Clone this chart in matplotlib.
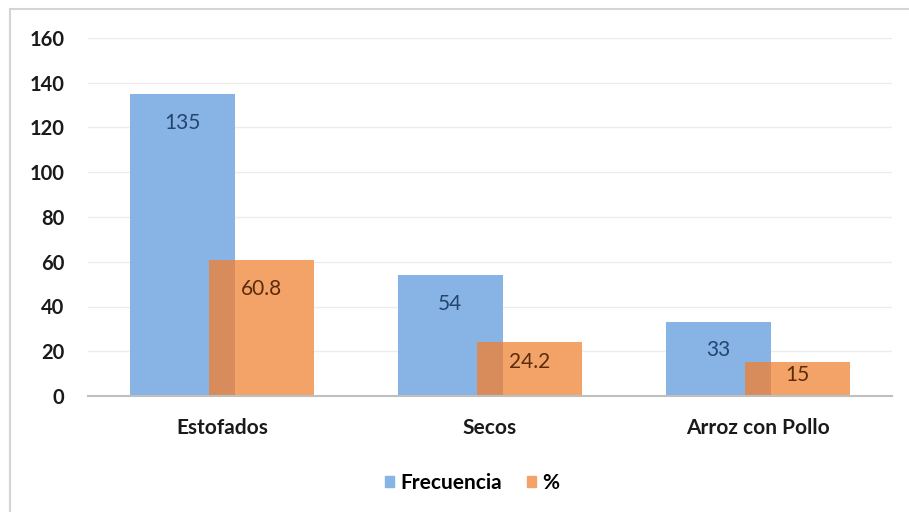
import matplotlib.pyplot as plt
from matplotlib.patches import Rectangle
import numpy as np

plt.rcParams['font.family'] = ['Lato', 'DejaVu Sans']

categorias = ['Estofados', 'Secos', 'Arroz con Pollo']
frecuencia = [135, 54, 33]
porcentaje = [60.8, 24.2, 15]
etiquetas_pct = ['60.8', '24.2', '15']

azul = '#87b4e4'
naranja = '#f3a367'
solape = '#d88c5c'

fig = plt.figure(figsize=(9.09, 5.12), dpi=100)
ax = fig.add_axes([88 / 909, 1 - 396 / 512, 804 / 909, 358 / 512])

x = np.arange(len(categorias))
w = 0.39
desp = 0.148

ax.bar(x - desp, frecuencia, w, color=azul, zorder=2)
ax.bar(x + desp, porcentaje, w, color=naranja, zorder=3)
# zona donde la barra naranja tapa a la azul, algo mas oscura
izq = x + desp - w / 2
der = x - desp + w / 2
ax.bar((izq + der) / 2, porcentaje, der - izq, color=solape, zorder=4)

def pos_etiqueta(v):
    return max(v - 12.8, v * 0.62)

for xi, v in zip(x, frecuencia):
    ax.text(xi - desp, pos_etiqueta(v), str(v), ha='center', va='center',
            fontsize=15, color='#23466e', zorder=5)
for xi, v, t in zip(x, porcentaje, etiquetas_pct):
    ax.text(xi + desp, pos_etiqueta(v), t, ha='center', va='center',
            fontsize=15, color='#5b2c0c', zorder=5)

ax.set_xlim(-0.5, 2.5)
ax.set_ylim(0, 160)
ax.set_yticks(range(0, 161, 20))
ax.set_xticks(x)
ax.set_xticklabels(categorias)
for lab in ax.get_yticklabels():
    lab.set_fontweight('bold')
    lab.set_fontsize(14.5)
    lab.set_color('#1a1a1a')
for lab in ax.get_xticklabels():
    lab.set_fontweight('bold')
    lab.set_fontsize(15)
    lab.set_color('#1a1a1a')
ax.tick_params(axis='both', length=0)
ax.tick_params(axis='x', pad=16)
ax.tick_params(axis='y', pad=17)
ax.grid(axis='y', color='#ececec', linewidth=1, zorder=0)
for s in ['top', 'right', 'left']:
    ax.spines[s].set_visible(False)
ax.spines['bottom'].set_color('#bfbfbf')
ax.spines['bottom'].set_linewidth(1.5)
ax.spines['bottom'].set_zorder(6)

h1 = Rectangle((0, 0), 1, 1, color=azul)
h2 = Rectangle((0, 0), 1, 1, color=naranja)
leg = fig.legend([h1, h2], ['Frecuencia', '%'], loc='center',
                 bbox_to_anchor=(472 / 909, 1 - 483 / 512), ncol=2,
                 frameon=False, handlelength=0.45, handleheight=0.45,
                 handletextpad=0.3, columnspacing=1.2,
                 prop={'weight': 'bold', 'size': 15})

# borde del recuadro del grafico
fig.patches.append(Rectangle((10 / 909, -0.1), 1.2, 1 - 9 / 512 + 0.1,
                             transform=fig.transFigure, fill=False,
                             edgecolor='#d4d4d4', linewidth=1.5))

fig.savefig('out.png', dpi=100)
